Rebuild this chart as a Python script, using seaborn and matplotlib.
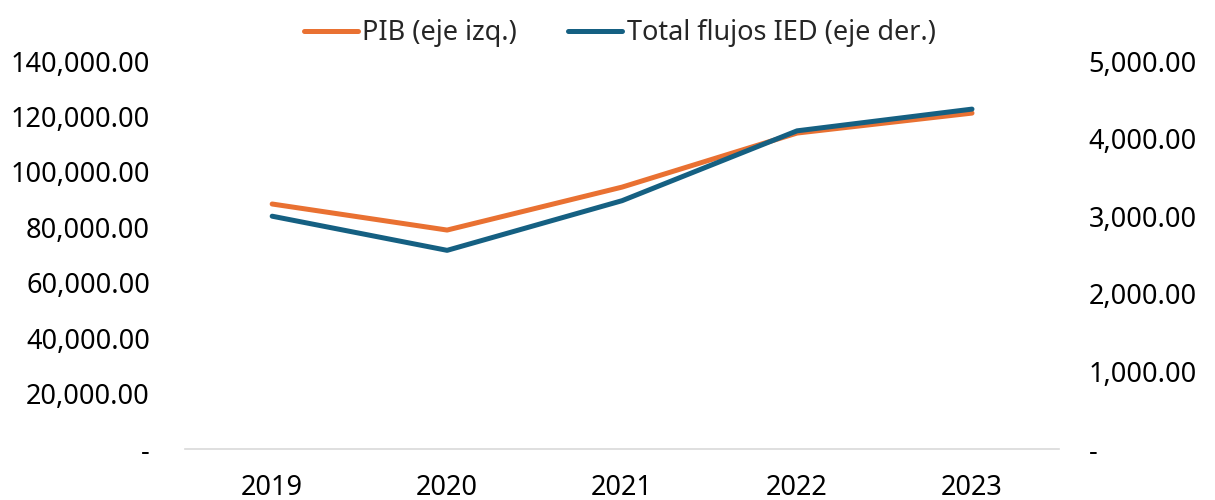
import matplotlib
matplotlib.use("Agg")
import matplotlib.pyplot as plt
import matplotlib.ticker as mticker
import seaborn as sns
import pandas as pd

# Data
years = ["2019", "2020", "2021", "2022", "2023"]
pib = [88400, 79000, 94500, 114000, 121200]
ied = [3000, 2560, 3200, 4100, 4380]

df = pd.DataFrame({"year": years, "pib": pib, "ied": ied})

sns.set_theme(style="white")
plt.rcParams['font.family'] = ['Noto Sans', 'DejaVu Sans']

def fmt(v, pos):
    if abs(v) < 1e-9:
        return "-"
    return f"{v:,.2f}"

fig = plt.figure(figsize=(12.15, 5), dpi=100)
ax = fig.add_axes([0.152, 0.102, 0.72, 0.776])
ax2 = ax.twinx()

orange = "#E97132"
blue = "#156082"

sns.lineplot(data=df, x="year", y="pib", ax=ax, color=orange, linewidth=3.6,
             label="PIB (eje izq.)", legend=False, sort=False)
sns.lineplot(data=df, x="year", y="ied", ax=ax2, color=blue, linewidth=3.6,
             label="Total flujos IED (eje der.)", legend=False, sort=False)

ax.set_xlim(-0.5, 4.5)
ax.set_ylim(0, 140000)
ax2.set_ylim(0, 5000)
ax.yaxis.set_major_locator(mticker.MultipleLocator(20000))
ax2.yaxis.set_major_locator(mticker.MultipleLocator(1000))
ax.yaxis.set_major_formatter(mticker.FuncFormatter(fmt))
ax2.yaxis.set_major_formatter(mticker.FuncFormatter(fmt))

for a in (ax, ax2):
    a.set_xlabel("")
    a.set_ylabel("")
    for s in a.spines.values():
        s.set_visible(False)
    a.tick_params(axis="both", length=0, labelsize=19.5, colors="#000000")
ax.spines["bottom"].set_visible(True)
ax.spines["bottom"].set_color("#D9D9D9")
ax.spines["bottom"].set_linewidth(1.2)
ax.tick_params(axis="y", pad=25)
ax2.tick_params(axis="y", pad=21)
ax.tick_params(axis="x", pad=18)

h1, l1 = ax.get_legend_handles_labels()
h2, l2 = ax2.get_legend_handles_labels()
fig.legend(h1 + h2, l1 + l2, loc="upper center", bbox_to_anchor=(0.51, 1.01),
           ncol=2, frameon=False, fontsize=19.5, handlelength=2.0, columnspacing=1.9,
           handletextpad=0.15)

fig.savefig("out.png", dpi=100)
